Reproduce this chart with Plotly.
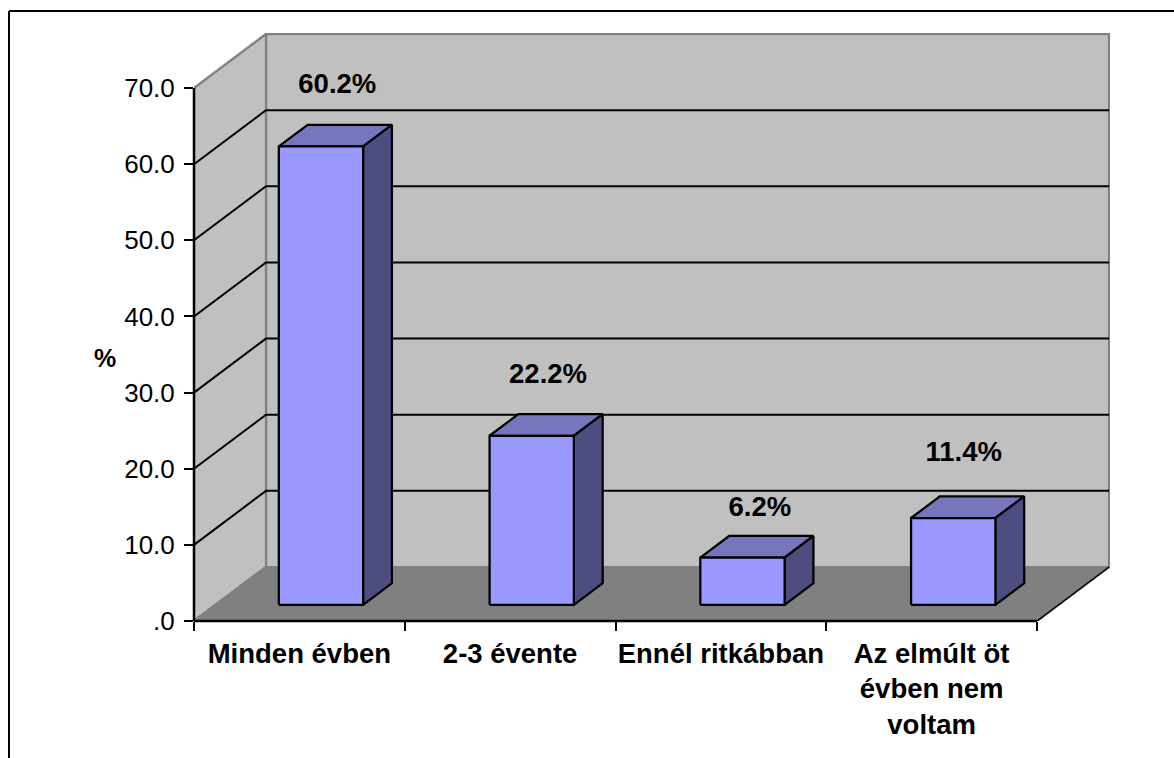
import plotly.graph_objects as go

# ---- data ----
categories = ["Minden évben", "2-3 évente", "Ennél ritkábban", "Az elmúlt öt<br>évben nem<br>voltam"]
values = [60.2, 22.2, 6.2, 11.4]
y_ticks = [0, 10, 20, 30, 40, 50, 60, 70]
y_tick_labels = [".0", "10.0", "20.0", "30.0", "40.0", "50.0", "60.0", "70.0"]
y_title = "%"

# ---- geometry / style ----
W, H = 1174, 758
X0, X1, Y0, Y1 = 194, 1110, 621, 33     # plot rectangle in window pixels
CAT_PX = 210.75                          # pixels per category
VAL_PX = 7.614                           # pixels per value unit
DX = 72 / CAT_PX                         # oblique depth in x units
DY = 54 / VAL_PX                         # oblique depth in y units
BAR_W, BAR_Z0, BAR_Z1 = 0.40, 0.30, 0.70
label_dx = [0.18, 0.18, 0.185, 0.152]
label_lift = [5.15, 5.0, 3.5, 5.5]
FONT = "Liberation Sans"
FS = 26
FS_BOLD = 27.5
GRAY = "#808080"
WALL = "#c0c0c0"
FRONT, TOP, SIDE = "#9999ff", "#7676bd", "#4d4d80"
n = len(categories)
vmax = y_ticks[-1]


def P(c, v, z=0.0):
    return c + z * DX, v + z * DY


def poly(points, fill=None, line="black", width=2.25, closed=True):
    pts = [P(*p) for p in points]
    if closed:
        pts.append(pts[0])
    return go.Scatter(
        x=[p[0] for p in pts], y=[p[1] for p in pts], mode="lines",
        line=dict(color=line, width=width),
        fill="toself" if fill else None, fillcolor=fill,
        cliponaxis=False, hoverinfo="skip", showlegend=False,
    )


fig = go.Figure()

# walls and floor
fig.add_trace(poly([(0, 0, 1), (n, 0, 1), (n, vmax, 1), (0, vmax, 1)], WALL, GRAY))
fig.add_trace(poly([(0, 0, 0), (0, 0, 1), (0, vmax, 1), (0, vmax, 0)], WALL, GRAY))
fig.add_trace(poly([(0, 0, 0), (n, 0, 0), (n, 0, 1), (0, 0, 1)], GRAY, GRAY))
# re-stroke the black right floor edge
fig.add_trace(poly([(n, 0, 0), (n, 0, 1)], None, "black", 1.5, closed=False))

# gridlines
for t in y_ticks:
    if 0 < t < vmax:
        fig.add_trace(poly([(0, t, 0), (0, t, 1), (n, t, 1)], None, "black", 2, closed=False))

# bars
for i, v in enumerate(values):
    a = i + 0.5 - BAR_W / 2
    b = i + 0.5 + BAR_W / 2
    fig.add_trace(poly([(a, v, BAR_Z0), (b, v, BAR_Z0), (b, v, BAR_Z1), (a, v, BAR_Z1)], TOP))
    fig.add_trace(poly([(b, 0, BAR_Z0), (b, 0, BAR_Z1), (b, v, BAR_Z1), (b, v, BAR_Z0)], SIDE))
    fig.add_trace(poly([(a, 0, BAR_Z0), (b, 0, BAR_Z0), (b, v, BAR_Z0), (a, v, BAR_Z0)], FRONT))

# data labels
lx = [i + 0.5 + label_dx[i] for i in range(n)]
ly = [v + BAR_Z1 * DY + label_lift[i] for i, v in enumerate(values)]
fig.add_trace(go.Scatter(
    x=lx, y=ly, mode="text", text=[f"{v:.1f}%" for v in values],
    textposition="middle center", cliponaxis=False,
    textfont=dict(family=FONT, size=FS_BOLD, color="black", weight="bold"),
    hoverinfo="skip", showlegend=False,
))

floor_y = 1 - Y0 / H
axis_top_y = 1 - (Y0 - vmax * VAL_PX) / H
axis_right_x = (X0 + n * CAT_PX) / W

fig.update_layout(
    width=W, height=H, margin=dict(l=0, r=0, t=0, b=0),
    paper_bgcolor="white", plot_bgcolor="rgba(0,0,0,0)", showlegend=False,
    xaxis=dict(
        automargin=False,
        domain=[X0 / W, X1 / W], range=[0, (X1 - X0) / CAT_PX],
        showgrid=False, zeroline=False, showline=False,
        tickmode="array", tickvals=[i + 0.5 for i in range(n)], ticktext=categories,
        ticks="", ticklen=0, ticklabelstandoff=13,
        tickfont=dict(family=FONT, size=FS_BOLD, color="black", weight="bold"),
        minor=dict(tickmode="array", tickvals=list(range(n + 1)), ticks="outside",
                   ticklen=9, tickwidth=1.5, tickcolor="black", showgrid=False),
    ),
    yaxis=dict(
        automargin=False,
        domain=[1 - Y0 / H, 1 - Y1 / H], range=[0, (Y0 - Y1) / VAL_PX],
        showgrid=False, zeroline=False, showline=False,
        tickmode="array", tickvals=y_ticks, ticktext=y_tick_labels,
        ticks="outside", ticklen=9, tickwidth=2, tickcolor="black",
        ticklabelstandoff=4,
        tickfont=dict(family=FONT, size=FS, color="black"),
    ),
    annotations=[dict(
        text=y_title, xref="paper", yref="paper", x=105 / W, y=1 - 358 / H,
        xanchor="center", yanchor="middle", showarrow=False,
        font=dict(family=FONT, size=25, color="black", weight="bold"),
    )],
    shapes=[
        # outer frame
        dict(type="line", xref="paper", yref="paper", x0=9 / W, x1=9 / W,
             y0=1 - 11 / H, y1=0, line=dict(color="black", width=2)),
        dict(type="line", xref="paper", yref="paper", x0=9 / W, x1=1,
             y0=1 - 11 / H, y1=1 - 11 / H, line=dict(color="black", width=2)),
        # axis lines, stopping at the last tick rather than the end of the depth
        dict(type="line", xref="paper", yref="paper", x0=X0 / W, x1=X0 / W,
             y0=floor_y, y1=axis_top_y, line=dict(color="black", width=2.5)),
        dict(type="line", xref="paper", yref="paper", x0=X0 / W, x1=axis_right_x,
             y0=floor_y, y1=floor_y, line=dict(color="black", width=2.5)),
    ],
)

fig.write_html("out.html", post_script="document.body.style.margin='0';document.body.style.overflow='hidden';",
               config={"displayModeBar": False})
